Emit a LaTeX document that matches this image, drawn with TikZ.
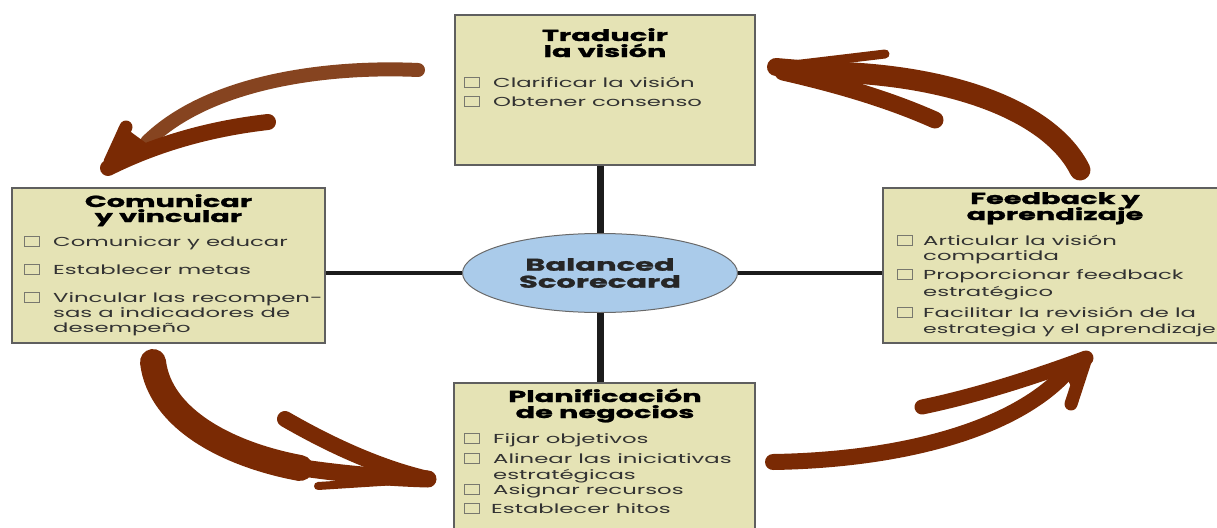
\documentclass[tikz,border=0pt]{standalone}
\usepackage{fontspec}
\usetikzlibrary{shapes.geometric}
\newfontfamily\itemfont[FakeStretch=1.75]{Poppins}
\newfontfamily\titlefont[FakeStretch=1.8,BoldFeatures={FakeBold=1.5}]{Poppins}
\definecolor{boxfill}{RGB}{229,227,181}
\definecolor{boxline}{RGB}{95,95,95}
\definecolor{chkgray}{RGB}{120,120,110}
\definecolor{itemgray}{RGB}{50,50,50}
\definecolor{ellfill}{RGB}{170,203,234}
\definecolor{ellline}{RGB}{105,105,105}
\definecolor{crossline}{RGB}{28,28,28}
\definecolor{brushdark}{RGB}{122,42,4}
\definecolor{brushlight}{RGB}{134,68,32}
\begin{document}
\begin{tikzpicture}[x=1pt,y=-1pt,
  panel/.style={rectangle, draw=boxline, line width=1.6pt, fill=boxfill, inner sep=0pt},
  itemtxt/.style={anchor=base west, inner sep=0pt, text=itemgray, font=\itemfont\fontsize{13}{15}\selectfont},
  ttl/.style={anchor=base, inner sep=0pt, font=\titlefont\bfseries\fontsize{16}{18}\selectfont},
  chk/.style={rectangle, draw=chkgray, line width=0.8pt, fill=boxfill, minimum width=15pt, minimum height=10pt, inner sep=0pt},
  crossv/.style={draw=crossline, line width=7pt},
  crossh/.style={draw=crossline, line width=4.5pt},
  brush/.style={line cap=round, line join=round, draw=brushdark},
  brushfill/.style={fill=brushdark, rounded corners=3pt}
]
\useasboundingbox (0,0) rectangle (1217,527);
\clip (0,0) rectangle (1217,527);

% ---------- panels ----------
\node[panel, minimum width=300pt, minimum height=150pt] (top) at (605,90) {};
\node[panel, minimum width=313pt, minimum height=155pt] (left) at (168.5,265.5) {};
\node[panel, minimum width=342pt, minimum height=155pt] (right) at (1054,265.5) {};
\node[panel, minimum width=301pt, minimum height=157pt] (bot) at (604.5,461.5) {};

% ---------- centre ----------
\node[ellipse, draw=ellline, line width=1pt, fill=ellfill, minimum width=275pt, minimum height=79pt, inner sep=0pt, align=center,
      font=\titlefont\bfseries\fontsize{17}{17}\selectfont, text=black!85] (bsc) at (600,273) {Balanced\\Scorecard};
\draw[crossv] (bsc.north) -- (bsc.north |- top.south);
\draw[crossv] (bsc.south) -- (bsc.south |- bot.north);
\draw[crossh] (bsc.west) -- (bsc.west -| left.east);
\draw[crossh] (bsc.east) -- (bsc.east -| right.west);

% ---------- top panel text ----------
\node[ttl] (tt1) at (605,41) {Traducir};
\node[ttl] (tt2) at (605,57) {la visión};
\node[chk] (tc1) at (472,82.5) {};
\node[itemtxt] (ti1) at (493,87) {Clarificar la visión};
\node[chk] (tc2) at (472,101.5) {};
\node[itemtxt] (ti2) at (493,106) {Obtener consenso};

% ---------- left panel text ----------
\node[ttl] (lt1) at (168.5,207) {Comunicar};
\node[ttl] (lt2) at (168.5,222) {y vincular};
\node[chk] (lc1) at (32,241.5) {};
\node[itemtxt] (li1) at (53,246) {Comunicar y educar};
\node[chk] (lc2) at (32,269.5) {};
\node[itemtxt] (li2) at (53,274) {Establecer metas};
\node[chk] (lc3) at (32,297.5) {};
\node[itemtxt] (li3) at (53,302) {Vincular las recompen-};
\node[itemtxt] (li4) at (53,317) {sas a indicadores de};
\node[itemtxt] (li5) at (53,332) {desempeño};

% ---------- right panel text ----------
\node[ttl] (rt1) at (1055,204) {Feedback y};
\node[ttl] (rt2) at (1055,220) {aprendizaje};
\node[chk] (rc1) at (905,240.5) {};
\node[itemtxt] (ri1) at (923,245) {Articular la visión};
\node[itemtxt] (ri2) at (923,260) {compartida};
\node[chk] (rc2) at (905,274.5) {};
\node[itemtxt] (ri3) at (923,279) {Proporcionar feedback};
\node[itemtxt] (ri4) at (923,296) {estratégico};
\node[chk] (rc3) at (905,312.5) {};
\node[itemtxt] (ri5) at (923,317) {Facilitar la revisión de la};
\node[itemtxt, font=\itemfont\fontsize{12.6}{15}\selectfont] (ri6) at (923,333) {estrategia y el aprendizaje};

% ---------- bottom panel text ----------
\node[ttl] (bt1) at (605,402) {Planificación};
\node[ttl] (bt2) at (605,418) {de negocios};
\node[chk] (bc1) at (472,438.5) {};
\node[itemtxt] (bi1) at (493,443) {Fijar objetivos};
\node[chk] (bc2) at (472,458.5) {};
\node[itemtxt] (bi2) at (493,463) {Alinear las iniciativas};
\node[itemtxt] (bi3) at (493,479) {estratégicas};
\node[chk] (bc3) at (472,489.5) {};
\node[itemtxt] (bi4) at (493,494) {Asignar recursos};
\node[chk] (bc4) at (472,508.5) {};
\node[itemtxt] (bi5) at (491,513) {Establecer hitos};

% ---------- brush arrows ----------
% top-left: from "Traducir" towards "Comunicar"
\coordinate (a1s) at (418,70);
\coordinate (a1e) at (147,142);
\coordinate (a1t) at (103,173);
\draw[brush, draw=brushlight, line width=14pt] (a1s) .. controls (330,66) and (210,80) .. (a1e);
\fill[brushfill] (a1t) -- (120,124) -- (150,146) -- (160,152) -- cycle;
\draw[brush, line width=16pt] (108,168) .. controls (160,142) and (215,128) .. (268,122);
\draw[brush, line width=13pt] (110,162) -- (126,127);

% bottom-left: from "Comunicar" towards "Planificación"
\coordinate (a2s) at (153,362);
\coordinate (a2t) at (428,479);
\draw[brush, line width=26pt] (a2s) .. controls (160,420) and (230,455) .. (300,468);
\draw[brush, line width=17pt] (290,466) .. controls (340,474) and (390,478) .. (a2t);
\draw[brush, line width=16pt] (285,419) .. controls (330,445) and (380,468) .. (a2t);
\draw[brush, line width=8pt] (a2t) -- (318,486);

% bottom-right: from "Planificación" towards "Feedback"
\coordinate (a3s) at (773,462);
\coordinate (a3t) at (1086,358);
\draw[brush, line width=16pt] (a3s) .. controls (900,460) and (1020,430) .. (1072,366);
\draw[brush, line width=15pt] (922,407) .. controls (980,395) and (1040,375) .. (a3t);
\draw[brush, line width=13pt] (a3t) -- (1071,404);
\fill[brushfill] (1060,365) -- (a3t) -- (1078,400) -- cycle;

% top-right: from "Feedback" towards "Traducir"
\coordinate (a4s) at (1080,170);
\coordinate (a4t) at (776,67);
\draw[brush, line width=21pt] (a4s) .. controls (1050,110) and (950,75) .. (830,72);
\draw[brush, line width=18pt] (835,72) -- (a4t);
\draw[brush, line width=9pt] (a4t) -- (885,54);
\draw[brush, line width=17pt] (783,72) .. controls (840,85) and (890,100) .. (935,120);
\end{tikzpicture}
\end{document}
